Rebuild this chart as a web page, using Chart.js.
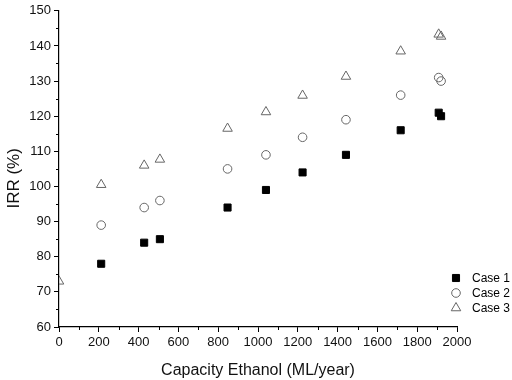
<!DOCTYPE html>
<html>
<head>
<meta charset="utf-8">
<script src="https://cdn.jsdelivr.net/npm/chart.js@4/dist/chart.umd.min.js"></script>
<style>
  html, body { margin: 0; padding: 0; background: #fff; }
  #wrap { width: 512px; height: 380px; }
</style>
</head>
<body>
<div id="wrap"><canvas id="irr-chart"></canvas></div>
<script>
// capacity (ML/year) for each plant
const capacity = [212, 428, 507, 847, 1040, 1224, 1442, 1717, 1908, 1920];
const case1 = [78, 84, 85, 94, 99, 104, 109, 116, 121, 120];
const case2 = [89, 94, 96, 105, 109, 114, 119, 126, 131, 130];
const case3 = [100.5, 106, 107.7, 116.5, 121.2, 125.9, 131.3, 138.5, 143.3, 142.7];
// stray case 3 marker sitting on the y axis
const case3Extra = { x: 0, y: 73 };

const seriesNames = ['Case 1', 'Case 2', 'Case 3'];
const xTicks = [0, 200, 400, 600, 800, 1000, 1200, 1400, 1600, 1800, 2000];
const yTicks = [60, 70, 80, 90, 100, 110, 120, 130, 140, 150];

const toPoints = (ys) => ys.map((y, i) => ({ x: capacity[i], y }));

const font = "Arial, 'Liberation Sans', sans-serif";

// minor ticks + legend inside the plot
const extras = {
  id: 'extras',
  afterDraw(chart) {
    const ctx = chart.ctx;
    const xs = chart.scales.x, ys = chart.scales.y;
    ctx.save();
    ctx.strokeStyle = '#000';
    ctx.lineWidth = 1;
    ctx.beginPath();
    for (let v = 100; v < 2000; v += 200) {
      const px = Math.round(xs.getPixelForValue(v)) + 0.5;
      ctx.moveTo(px, xs.top);
      ctx.lineTo(px, xs.top + 3);
    }
    for (let v = 65; v < 150; v += 10) {
      const py = Math.round(ys.getPixelForValue(v)) + 0.5;
      ctx.moveTo(ys.right, py);
      ctx.lineTo(ys.right - 3, py);
    }
    ctx.stroke();

    // legend
    ctx.font = '12px ' + font;
    ctx.textBaseline = 'middle';
    ctx.fillStyle = '#000';
    chart.data.datasets.forEach((ds, i) => {
      const y = 278 + i * 15;
      ctx.save();
      ctx.strokeStyle = ds.borderColor;
      ctx.fillStyle = ds.backgroundColor;
      ctx.lineWidth = ds.borderWidth;
      Chart.helpers.drawPoint(ctx, { pointStyle: ds.pointStyle, radius: ds.pointRadius, borderWidth: ds.borderWidth }, 456, y);
      ctx.restore();
      ctx.fillText(seriesNames[i], 472, y + 1);
    });
    ctx.restore();
  }
};

new Chart(document.getElementById('irr-chart'), {
  type: 'scatter',
  data: {
    datasets: [
      {
        label: seriesNames[0],
        data: toPoints(case1),
        pointStyle: 'rect',
        pointRadius: 5,
        backgroundColor: '#000',
        borderColor: '#000',
        borderWidth: 1,
      },
      {
        label: seriesNames[1],
        data: toPoints(case2),
        pointStyle: 'circle',
        pointRadius: 4.3,
        backgroundColor: 'rgba(255,255,255,0)',
        borderColor: '#666',
        borderWidth: 1,
      },
      {
        label: seriesNames[2],
        data: [case3Extra].concat(toPoints(case3)),
        pointStyle: 'triangle',
        pointRadius: 5.5,
        backgroundColor: 'rgba(255,255,255,0)',
        borderColor: '#666',
        borderWidth: 1,
        clip: 0,
      },
    ],
  },
  options: {
    responsive: true,
    maintainAspectRatio: false,
    animation: false,
    events: [],
    layout: { padding: { top: 7, right: 55, left: 0, bottom: 0 } },
    plugins: { legend: { display: false }, tooltip: { enabled: false } },
    scales: {
      x: {
        type: 'linear',
        min: 0,
        max: 2000,
        afterBuildTicks: (s) => { s.ticks = xTicks.map((v) => ({ value: v })); },
        afterFit: (s) => { s.height = 53; },
        grid: { drawOnChartArea: false, color: '#000', tickLength: 5, tickColor: '#000' },
        border: { color: '#000', width: 1.2 },
        ticks: { color: '#111', font: { family: font, size: 13 }, padding: 3, maxRotation: 0, callback: (v) => String(v) },
        title: { display: true, text: 'Capacity Ethanol (ML/year)', color: '#111', font: { family: font, size: 16 }, padding: { top: 3, bottom: 0 } },
      },
      y: {
        type: 'linear',
        min: 60,
        max: 150,
        afterBuildTicks: (s) => { s.ticks = yTicks.map((v) => ({ value: v })); },
        afterFit: (s) => { s.width = 59; },
        grid: { drawOnChartArea: false, color: '#000', tickLength: 5, tickColor: '#000' },
        border: { color: '#000', width: 1.2 },
        ticks: { color: '#111', font: { family: font, size: 13 }, padding: 3, callback: (v) => String(v) },
        // trailing spaces nudge the visible text a little below the axis centre
        title: { display: true, text: 'IRR (%)    ', color: '#111', font: { family: font, size: 17 }, padding: { top: 4, bottom: 0 } },
      },
    },
  },
  plugins: [extras],
});
</script>
</body>
</html>
